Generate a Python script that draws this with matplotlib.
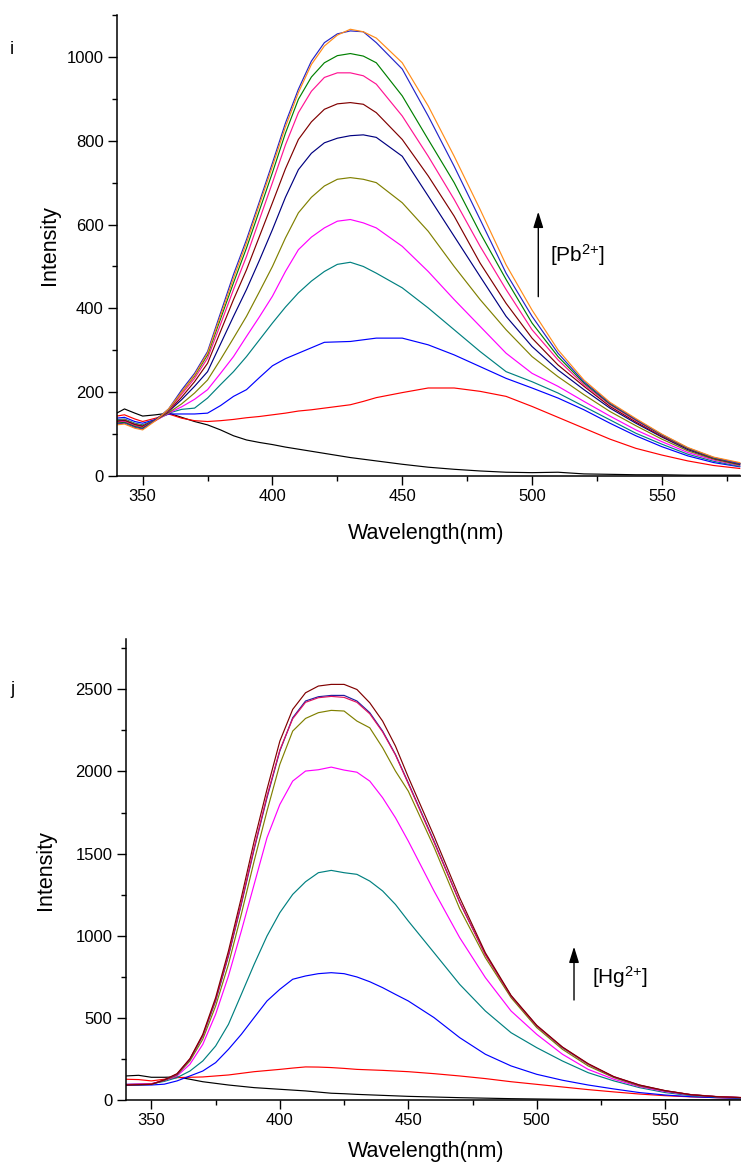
import matplotlib
matplotlib.use("Agg")
import matplotlib.pyplot as plt
from matplotlib.ticker import MultipleLocator

plt.rcParams['font.family'] = ['Liberation Sans', 'DejaVu Sans']
plt.rcParams['mathtext.default'] = 'regular'

# ---------------- Panel i : Pb2+ titration ----------------
W_PB = [340, 343, 347, 350, 355, 360, 365, 370, 375, 380, 385, 390, 395, 400, 405, 410, 415, 420, 425, 430,
        435, 440, 450, 460, 470, 480, 490, 500, 510, 520, 530, 540, 550, 560, 570, 580]

pb_black = [150, 160, 150, 143, 146, 150, 140, 130, 122, 110, 96, 86, 80, 75, 69, 64, 59, 54, 49, 44,
            40, 36, 28, 21, 16, 12, 9, 8, 9, 5, 4, 3, 3, 2, 2, 2]
pb_red = [143, 146, 136, 130, 138, 148, 138, 132, 130, 132, 135, 139, 142, 146, 150, 155, 158, 162, 166, 170,
          178, 187, 199, 210, 210, 202, 190, 166, 140, 114, 88, 66, 50, 36, 25, 18]
pb_blue1 = [138, 140, 130, 126, 135, 148, 148, 148, 150, 168, 190, 206, 235, 263, 280, 293, 306, 319, 320, 321,
            325, 329, 329, 313, 289, 261, 233, 210, 186, 158, 126, 96, 70, 48, 32, 22]
pb_teal = [134, 136, 126, 122, 134, 150, 159, 162, 186, 218, 249, 285, 325, 365, 403, 437, 465, 488, 505, 510,
           500, 484, 449, 401, 349, 297, 249, 225, 198, 166, 134, 102, 76, 52, 35, 23]
pb_magenta = [132, 134, 124, 120, 132, 150, 165, 183, 206, 245, 285, 333, 380, 429, 488, 540, 570, 592, 608, 612,
              604, 592, 548, 488, 421, 357, 293, 245, 214, 178, 143, 110, 82, 56, 38, 25]
pb_olive = [132, 134, 124, 120, 133, 151, 172, 198, 229, 278, 329, 381, 440, 500, 568, 628, 665, 692, 708, 712,
            708, 700, 652, 584, 500, 421, 349, 285, 237, 194, 154, 120, 88, 60, 40, 26]
pb_navy = [130, 132, 122, 118, 134, 154, 182, 214, 249, 315, 381, 445, 515, 588, 665, 731, 770, 795, 806, 812,
           814, 808, 763, 668, 572, 476, 381, 309, 253, 206, 162, 126, 93, 63, 42, 28]
pb_maroon = [130, 132, 122, 118, 134, 155, 188, 225, 269, 345, 421, 492, 572, 652, 733, 803, 845, 875, 888, 891,
             887, 867, 803, 716, 620, 508, 412, 329, 265, 214, 166, 129, 95, 65, 42, 29]
pb_pink = [128, 130, 120, 116, 134, 156, 195, 233, 281, 362, 445, 524, 612, 700, 790, 867, 918, 951, 962, 962,
           955, 935, 859, 763, 660, 548, 445, 349, 277, 218, 170, 132, 97, 66, 43, 30]
pb_green = [126, 128, 118, 114, 134, 158, 200, 239, 289, 375, 461, 544, 634, 724, 818, 899, 952, 986, 1003, 1008,
            1002, 986, 907, 803, 700, 580, 469, 365, 285, 222, 172, 134, 98, 66, 43, 30]
pb_blue2 = [124, 126, 116, 112, 134, 160, 205, 245, 297, 389, 481, 564, 655, 747, 842, 923, 990, 1034, 1055, 1062,
            1060, 1034, 971, 859, 739, 612, 484, 381, 293, 225, 174, 135, 99, 67, 44, 30]
pb_orange = [122, 124, 114, 110, 132, 160, 200, 241, 293, 382, 472, 556, 648, 739, 833, 915, 982, 1026, 1052, 1066,
             1060, 1045, 986, 883, 763, 636, 504, 396, 301, 229, 176, 137, 100, 68, 45, 32]

PB_SERIES = [pb_black, pb_red, pb_blue1, pb_teal, pb_magenta, pb_olive, pb_navy, pb_maroon,
             pb_pink, pb_green, pb_blue2, pb_orange]
PB_COLORS = ['#000000', '#FF0000', '#0000FF', '#008080', '#FF00FF', '#808000', '#000080', '#800000',
             '#FF1493', '#008000', '#2424C8', '#FF8C1A']

# ---------------- Panel j : Hg2+ titration ----------------
W_HG = [340, 345, 350, 355, 360, 365, 370, 375, 380, 385, 390, 395, 400, 405, 410, 415, 420, 425,
        430, 435, 440, 445, 450, 460, 470, 480, 490, 500, 510, 520, 530, 540, 550, 560, 570, 580]

hg_black = [148, 152, 140, 140, 142, 128, 113, 103, 93, 85, 77, 72, 67, 62, 57, 50, 43, 40,
            36, 33, 30, 27, 24, 20, 16, 13, 10, 8, 6, 5, 4, 3, 3, 2, 2, 2]
hg_red = [128, 126, 118, 128, 138, 140, 142, 148, 154, 164, 174, 181, 188, 196, 203, 202, 199, 194,
          188, 185, 182, 178, 174, 162, 148, 132, 113, 97, 81, 65, 51, 38, 28, 21, 16, 12]
hg_blue = [93, 93, 93, 98, 118, 148, 178, 229, 310, 401, 503, 604, 675, 736, 756, 770, 776, 770,
           750, 721, 685, 644, 604, 503, 381, 280, 209, 158, 122, 93, 69, 47, 32, 22, 16, 12]
hg_teal = [97, 99, 101, 115, 138, 178, 239, 330, 462, 644, 827, 999, 1141, 1252, 1329, 1384, 1398, 1384,
           1374, 1333, 1273, 1191, 1090, 898, 705, 543, 411, 320, 239, 168, 118, 77, 47, 28, 20, 14]
hg_magenta = [97, 99, 101, 120, 148, 219, 340, 523, 756, 1029, 1313, 1597, 1799, 1941, 2002, 2010, 2026, 2008,
              1995, 1941, 1840, 1718, 1576, 1273, 989, 746, 543, 401, 280, 188, 128, 83, 53, 32, 22, 16]
hg_olive = [93, 95, 97, 120, 154, 239, 371, 573, 827, 1131, 1455, 1759, 2043, 2245, 2322, 2357, 2371, 2367,
            2306, 2265, 2144, 2002, 1880, 1540, 1165, 867, 624, 442, 310, 209, 138, 87, 57, 34, 22, 16]
hg_navy = [91, 93, 97, 122, 158, 249, 391, 604, 877, 1191, 1526, 1840, 2124, 2326, 2428, 2454, 2462, 2462,
           2428, 2357, 2245, 2103, 1930, 1576, 1205, 887, 634, 452, 320, 219, 142, 91, 57, 34, 22, 16]
hg_pink = [95, 97, 99, 124, 160, 252, 395, 610, 885, 1200, 1535, 1850, 2130, 2320, 2420, 2448, 2456, 2450,
           2420, 2350, 2240, 2100, 1925, 1570, 1205, 885, 634, 452, 322, 220, 143, 92, 58, 35, 23, 17]
hg_maroon = [93, 95, 97, 124, 162, 253, 401, 624, 908, 1232, 1576, 1891, 2184, 2377, 2478, 2519, 2529, 2529,
             2498, 2417, 2306, 2154, 1965, 1607, 1232, 897, 638, 456, 324, 223, 144, 93, 59, 34, 22, 16]

HG_SERIES = [hg_black, hg_red, hg_blue, hg_teal, hg_magenta, hg_olive, hg_navy, hg_pink, hg_maroon]
HG_COLORS = ['#000000', '#FF0000', '#0000FF', '#008080', '#FF00FF', '#808000', '#1F1F9F', '#E0115F',
             '#800000']

XTICKS = [350, 400, 450, 500, 550]
PB_YTICKS = [0, 200, 400, 600, 800, 1000]
HG_YTICKS = [0, 500, 1000, 1500, 2000, 2500]

W, H = 741, 1168
fig = plt.figure(figsize=(W / 100, H / 100), dpi=100)


def frac_box(x0, y0, x1, y1):
    return [x0 / W, 1 - y1 / H, (x1 - x0) / W, (y1 - y0) / H]


def style(ax, xlim, ylim, yticks, yminor):
    ax.set_xlim(*xlim)
    ax.set_ylim(*ylim)
    ax.set_xticks(XTICKS)
    ax.set_yticks(yticks)
    ax.xaxis.set_minor_locator(MultipleLocator(25))
    ax.yaxis.set_minor_locator(MultipleLocator(yminor))
    for s in ['top', 'right']:
        ax.spines[s].set_visible(False)
    for s in ['left', 'bottom']:
        ax.spines[s].set_linewidth(1.1)
    ax.tick_params(which='major', direction='out', length=6.5, width=1.0, labelsize=12, pad=3)
    ax.tick_params(which='minor', direction='out', length=3.6, width=1.0)


ax1 = fig.add_axes(frac_box(116.7, 15, 741, 476))
for ys, c in zip(PB_SERIES, PB_COLORS):
    ax1.plot(W_PB, ys, color=c, lw=0.85)
style(ax1, (340, 580.5), (0, 1100), PB_YTICKS, 100)

ax2 = fig.add_axes(frac_box(125.7, 639, 741, 1100.3))
for ys, c in zip(HG_SERIES, HG_COLORS):
    ax2.plot(W_HG, ys, color=c, lw=0.85)
style(ax2, (340, 579.5), (0, 2805), HG_YTICKS, 250)

# axis labels
fig.text(426 / W, 1 - 533 / H, 'Wavelength(nm)', ha='center', va='center', fontsize=15.5)
fig.text(426 / W, 1 - 1151 / H, 'Wavelength(nm)', ha='center', va='center', fontsize=15.5)
fig.text(50 / W, 1 - 245 / H, 'Intensity', ha='center', va='center', rotation=90, fontsize=15.5)
fig.text(45 / W, 1 - 870 / H, 'Intensity', ha='center', va='center', rotation=90, fontsize=15.5)

# panel letters
fig.text(12 / W, 1 - 50 / H, 'i', ha='center', va='center', fontsize=13)
fig.text(12 / W, 1 - 690 / H, 'j', ha='center', va='center', fontsize=13)

# arrows and annotations
arrow = dict(arrowstyle='-|>,head_length=0.8,head_width=0.25', lw=1.0, color='black',
             mutation_scale=12, shrinkA=0, shrinkB=0)
ax1.annotate('', xy=(0.6753, 0.5733), xytext=(0.6753, 0.389), xycoords='axes fraction',
             textcoords='axes fraction', arrowprops=arrow)
ax1.text(0.6941, 0.4794, r'[Pb$^{2{+}}$]', transform=ax1.transAxes, ha='left', va='center', fontsize=15)

ax2.annotate('', xy=(0.7286, 0.333), xytext=(0.7286, 0.2174), xycoords='axes fraction',
             textcoords='axes fraction', arrowprops=arrow)
ax2.text(0.7574, 0.268, r'[Hg$^{2{+}}$]', transform=ax2.transAxes, ha='left', va='center', fontsize=15)

fig.savefig('out.png', dpi=100)
